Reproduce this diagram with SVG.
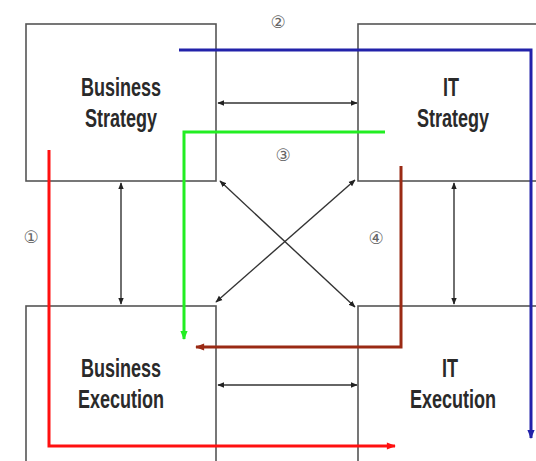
<svg xmlns="http://www.w3.org/2000/svg" width="536" height="461" viewBox="0 0 536 461">
<style>
.box{fill:#fff;stroke:#555;stroke-width:1.6}
.lbl{font-family:"Liberation Sans",Arial,sans-serif;font-weight:bold;font-size:22px;fill:#2a2a2a;text-anchor:middle}
.num{font-family:"DejaVu Sans","Noto Sans",sans-serif;font-size:17px;fill:#666;text-anchor:middle}
.blk{fill:none;stroke:#333;stroke-width:1.4;marker-start:url(#ab);marker-end:url(#ab)}
</style>
<defs>
<marker id="ab" viewBox="0 0 10 10" refX="9" refY="5" markerWidth="7" markerHeight="7" orient="auto-start-reverse" markerUnits="userSpaceOnUse"><path d="M0,1 L10,5 L0,9 z" fill="#222"/></marker>
<marker id="ablue" viewBox="0 0 10 10" refX="9" refY="5" markerWidth="10" markerHeight="9" orient="auto" markerUnits="userSpaceOnUse"><path d="M0,1 L10,5 L0,9 z" fill="#2222aa"/></marker>
<marker id="ared" viewBox="0 0 10 10" refX="9" refY="5" markerWidth="10" markerHeight="9" orient="auto" markerUnits="userSpaceOnUse"><path d="M0,1 L10,5 L0,9 z" fill="#ff1010"/></marker>
<marker id="agreen" viewBox="0 0 10 10" refX="9" refY="5" markerWidth="10" markerHeight="9" orient="auto" markerUnits="userSpaceOnUse"><path d="M0,1 L10,5 L0,9 z" fill="#22ee22"/></marker>
<marker id="abrown" viewBox="0 0 10 10" refX="9" refY="5" markerWidth="10" markerHeight="9" orient="auto" markerUnits="userSpaceOnUse"><path d="M0,1 L10,5 L0,9 z" fill="#9a2a14"/></marker>
</defs>
<rect width="536" height="461" fill="#fff"/>
<g id="business-strategy">
<rect class="box" x="26" y="24" width="190" height="157"/>
<text class="lbl" transform="translate(121,96) scale(0.82,1.2)">Business</text>
<text class="lbl" transform="translate(121,127) scale(0.82,1.2)">Strategy</text>
</g>
<g id="it-strategy">
<rect class="box" x="358" y="24" width="200" height="157"/>
<text class="lbl" transform="translate(451,96) scale(0.82,1.2)">IT</text>
<text class="lbl" transform="translate(453,127) scale(0.82,1.2)">Strategy</text>
</g>
<g id="business-execution">
<rect class="box" x="26" y="306" width="190" height="170"/>
<text class="lbl" transform="translate(121,377) scale(0.82,1.2)">Business</text>
<text class="lbl" transform="translate(121,408) scale(0.82,1.2)">Execution</text>
</g>
<g id="it-execution">
<rect class="box" x="358" y="306" width="200" height="170"/>
<text class="lbl" transform="translate(450,377) scale(0.82,1.2)">IT</text>
<text class="lbl" transform="translate(453,408) scale(0.82,1.2)">Execution</text>
</g>
<g id="connectors">
<line class="blk" x1="218" y1="103" x2="357" y2="103"/>
<line class="blk" x1="218" y1="385" x2="357" y2="385"/>
<line class="blk" x1="121" y1="183" x2="121" y2="304"/>
<line class="blk" x1="454" y1="183" x2="454" y2="304"/>
<line class="blk" x1="220" y1="181" x2="355" y2="307"/>
<line class="blk" x1="355" y1="180" x2="216" y2="302"/>
<path d="M179,50 H531 V438" fill="none" stroke="#2222aa" stroke-width="3" marker-end="url(#ablue)"/>
<path d="M49,150 V446 H395" fill="none" stroke="#ff1010" stroke-width="3" marker-end="url(#ared)"/>
<path d="M385,132 H184 V339" fill="none" stroke="#22ee22" stroke-width="3" marker-end="url(#agreen)"/>
<path d="M401,166 V347 H196" fill="none" stroke="#9a2a14" stroke-width="3" marker-end="url(#abrown)"/>
</g>
<g id="numbers">
<text class="num" x="31" y="243">①</text>
<text class="num" x="278" y="28">②</text>
<text class="num" x="283" y="161">③</text>
<text class="num" x="376" y="244">④</text>
</g>
</svg>
